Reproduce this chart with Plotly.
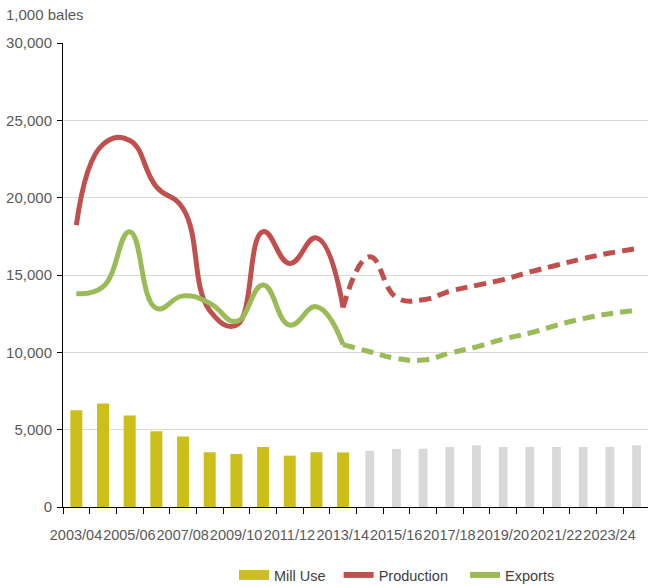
import plotly.graph_objects as go

years = ["2003/04", "2004/05", "2005/06", "2006/07", "2007/08", "2008/09", "2009/10",
         "2010/11", "2011/12", "2012/13", "2013/14", "2014/15", "2015/16", "2016/17",
         "2017/18", "2018/19", "2019/20", "2020/21", "2021/22", "2022/23", "2023/24",
         "2024/25"]
n_hist = 11  # 2003/04 .. 2013/14 are historical

mill_use = [6250, 6690, 5920, 4890, 4560, 3540, 3430, 3880, 3320, 3540, 3530,
            3630, 3760, 3770, 3880, 3990, 3880, 3880, 3880, 3880, 3880, 3990]

production_hist = [18230, 23450, 23700, 20700, 19300, 12700, 11750, 17800, 15750, 17400, 12900]
production_proj = [12900, 16180, 13550, 13400, 13950, 14330, 14700, 15200, 15630, 16060, 16420, 16700]

exports_hist = [13810, 14240, 17800, 12850, 13650, 13180, 12000, 14350, 11760, 12950, 10500]
exports_proj = [10500, 10040, 9610, 9500, 9950, 10350, 10850, 11250, 11750, 12180, 12500, 12720]

x_tick_labels = ["2003/04", "2005/06", "2007/08", "2009/10", "2011/12", "2013/14",
                 "2015/16", "2017/18", "2019/20", "2021/22", "2023/24"]

YELLOW = "#CCBF1C"
GREY = "#D9D9D9"
RED = "#C0504D"
GREEN = "#9BBB59"
TXT = "#595959"
FONT = "Liberation Sans, Arial, sans-serif"
NB = "\u00a0"

idx = list(range(len(years)))
hist_idx = idx[:n_hist]
proj_idx = idx[n_hist - 1:]
SM = 1.3

# tick marks sit on category boundaries; labels (every other year) are shifted
# half a category to the right so they centre on their category
boundaries = [i - 0.5 for i in range(len(years) + 1)]
label_map = dict(zip(years[::2], x_tick_labels))
boundary_text = [label_map.get(years[i], "") if i < len(years) else ""
                 for i in range(len(years) + 1)]

fig = go.Figure()

fig.add_trace(go.Bar(x=hist_idx, y=mill_use[:n_hist], width=0.45,
                     marker=dict(color=YELLOW, line=dict(width=0)),
                     showlegend=False, name="Mill Use"))
fig.add_trace(go.Bar(x=idx[n_hist:], y=mill_use[n_hist:], width=0.33,
                     marker=dict(color=GREY, line=dict(width=0)),
                     showlegend=False, name="Mill Use (proj)"))

fig.add_trace(go.Scatter(x=hist_idx, y=production_hist, mode="lines",
                         line=dict(color=RED, width=5, shape="spline", smoothing=SM),
                         showlegend=False))
fig.add_trace(go.Scatter(x=proj_idx, y=production_proj, mode="lines",
                         line=dict(color=RED, width=5, shape="spline", smoothing=SM,
                                   dash="12px,7px"),
                         showlegend=False))
fig.add_trace(go.Scatter(x=hist_idx, y=exports_hist, mode="lines",
                         line=dict(color=GREEN, width=5, shape="spline", smoothing=SM),
                         showlegend=False))
fig.add_trace(go.Scatter(x=proj_idx, y=exports_proj, mode="lines",
                         line=dict(color=GREEN, width=5, shape="spline", smoothing=SM,
                                   dash="12px,7px"),
                         showlegend=False))

# legend entries
fig.add_trace(go.Scatter(x=[None], y=[None], mode="lines", name="Mill Use" + NB * 2,
                         line=dict(color=YELLOW, width=10)))
fig.add_trace(go.Scatter(x=[None], y=[None], mode="lines", name="Production" + NB * 3,
                         line=dict(color=RED, width=6)))
fig.add_trace(go.Scatter(x=[None], y=[None], mode="lines", name="Exports",
                         line=dict(color=GREEN, width=6)))

fig.update_layout(
    width=648, height=587,
    margin=dict(l=63, r=0, t=43, b=80, pad=0, autoexpand=False),
    paper_bgcolor="white", plot_bgcolor="white",
    font=dict(family=FONT, size=15, color=TXT),
    barmode="overlay",
    title=dict(text="1,000 bales", x=6 / 648, xanchor="left", xref="container",
               y=1 - 15 / 587, yanchor="middle", yref="container",
               font=dict(family=FONT, size=15, color=TXT)),
    legend=dict(orientation="h", xref="container", yref="container",
                x=234 / 648, xanchor="left", y=1 - 575 / 587, yanchor="middle",
                font=dict(family=FONT, size=14.5, color="#404040"),
                bgcolor="rgba(0,0,0,0)", traceorder="normal", itemwidth=30),
    xaxis=dict(range=[-0.5, 21.43], tickmode="array",
               tickvals=boundaries, ticktext=boundary_text, tickangle=0,
               ticks="outside", ticklen=6, tickcolor="#000000",
               ticklabelshift=13, ticklabelstandoff=9,
               showgrid=False, zeroline=False, automargin=False,
               showline=True, linecolor="#000000", linewidth=1,
               tickfont=dict(family=FONT, size=14.5, color=TXT)),
    yaxis=dict(range=[0, 30000], tickmode="linear", tick0=0, dtick=5000,
               tickformat=",d", showgrid=True, gridcolor="#D9D9D9", gridwidth=1,
               zeroline=False, showline=True, linecolor="#000000", linewidth=1,
               ticks="outside", ticklen=5, tickcolor="#000000", automargin=False,
               ticklabelstandoff=2,
               tickfont=dict(family=FONT, size=15, color=TXT)),
)

fig.write_html("out.html", config={"displayModeBar": False},
               post_script="document.body.style.margin='0px';document.body.style.overflow='hidden';")
